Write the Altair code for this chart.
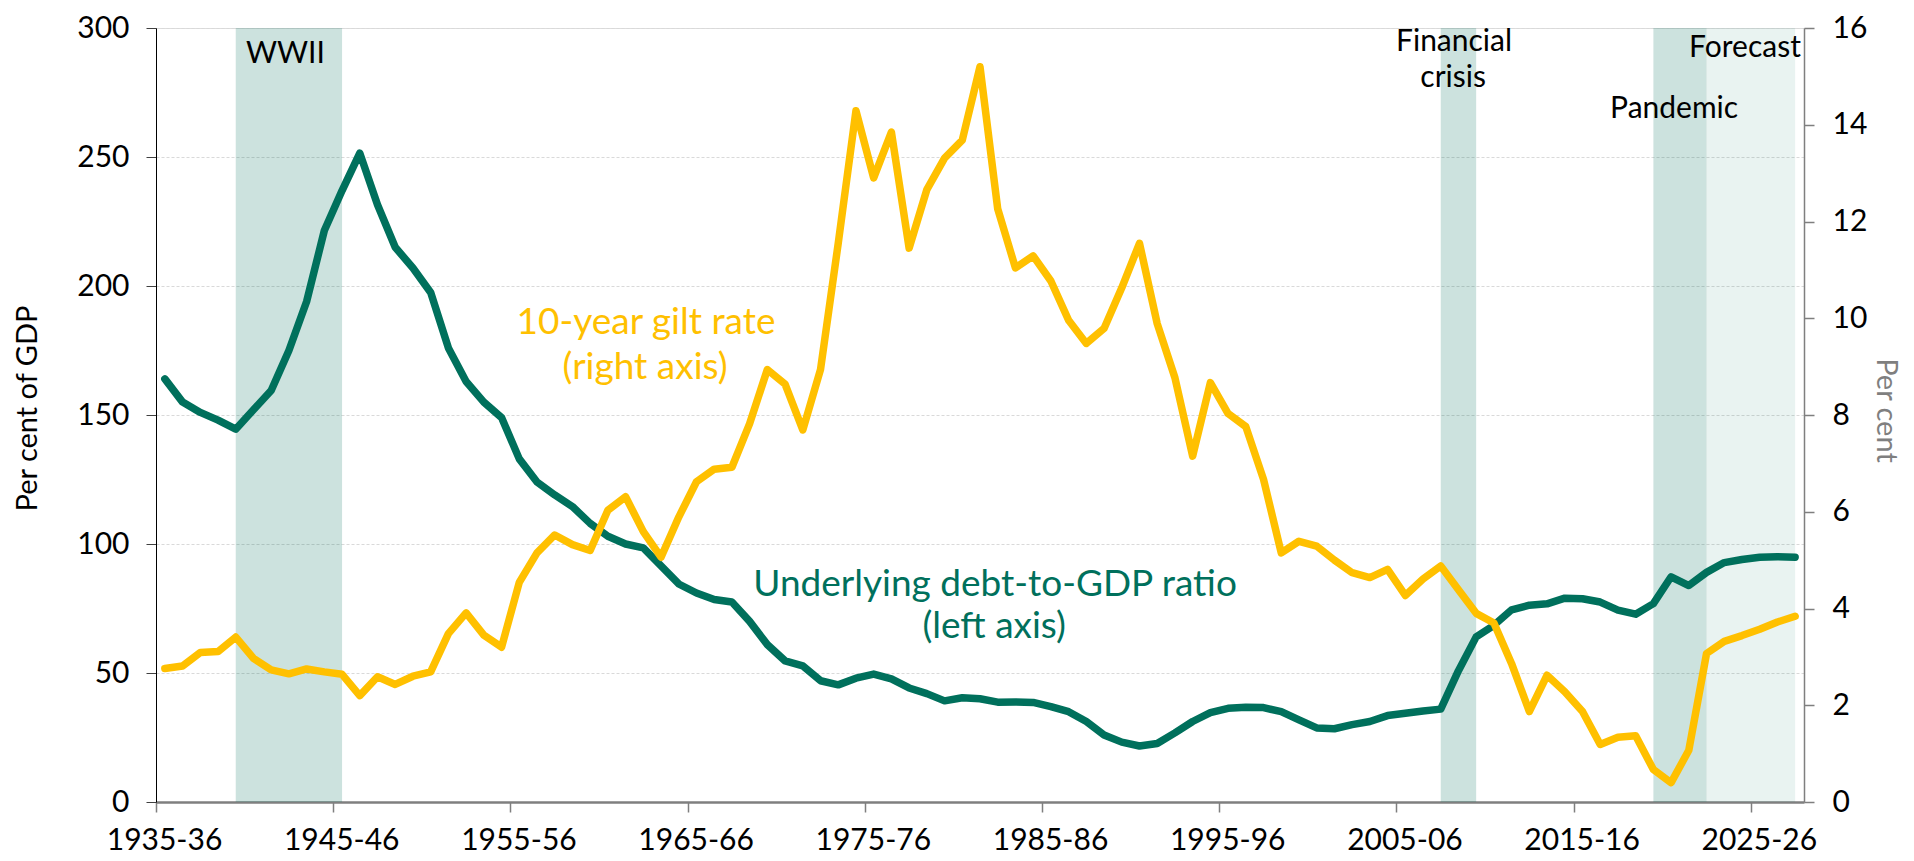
import altair as alt
import pandas as pd

# ---------------- data ----------------
start_years = list(range(1935, 2028))  # 1935-36 ... 2027-28

debt = [164, 155, 151, 148, 144.5, 152, 159.5, 175, 194, 221.5,
        237, 251.5, 231.5, 215, 207, 197.5, 176, 163, 155, 149,
        133, 124, 119, 114.5, 108, 103, 100, 98.5, 91.5, 84.5,
        81, 78.5, 77.5, 70, 61, 54.7, 52.8, 47, 45.4, 48,
        49.6, 47.7, 44.2, 42, 39.2, 40.4, 40, 38.7, 38.8, 38.6,
        37, 35, 31.2, 26, 23.2, 21.7, 22.7, 26.8, 31.2, 34.6,
        36.3, 36.7, 36.6, 35, 31.8, 28.7, 28.4, 30, 31.2, 33.5,
        34.4, 35.3, 36, 50.9, 64, 68.5, 74.5, 76.3, 76.8, 79,
        78.8, 77.5, 74.4, 72.8, 76.9, 87.3, 83.9, 89, 92.8, 94,
        94.9, 95.1, 94.9]

gilt = [2.76, 2.81, 3.09, 3.11, 3.41, 2.97, 2.73, 2.65, 2.75, 2.69,
        2.64, 2.2, 2.59, 2.43, 2.6, 2.69, 3.48, 3.91, 3.45, 3.2,
        4.54, 5.15, 5.52, 5.32, 5.2, 6.03, 6.31, 5.59, 5.06, 5.89,
        6.62, 6.88, 6.92, 7.82, 8.94, 8.64, 7.69, 8.94, 11.55, 14.29,
        12.9, 13.85, 11.45, 12.66, 13.31, 13.68, 15.2, 12.26, 11.04, 11.29,
        10.77, 9.96, 9.48, 9.79, 10.63, 11.55, 9.89, 8.77, 7.15, 8.67,
        8.03, 7.76, 6.67, 5.15, 5.39, 5.29, 5.0, 4.74, 4.64, 4.81,
        4.27, 4.61, 4.88, 4.39, 3.9, 3.7, 2.86, 1.87, 2.62, 2.28,
        1.87, 1.19, 1.34, 1.37, 0.67, 0.4, 1.07, 3.07, 3.32, 3.44,
        3.57, 3.72, 3.84]

period_names = ["WWII", "Financial crisis", "Pandemic", "Forecast"]
period_first = [1939, 2007, 2019, 2022]
period_last = [1945, 2009, 2022, 2027]
period_opacity = [0.2, 0.2, 0.2, 0.085]

note_text = ["WWII", "Financial", "crisis", "Pandemic", "Forecast"]
note_x = [1942.3, 2008.25, 2008.2, 2020.67, 2024.67]
note_y = [286.4, 291.2, 277.0, 265.0, 288.9]

gilt_label = ["10-year gilt rate", "(right axis)"]
gilt_label_x = [1962.65, 1962.6]
gilt_label_y = [181.3, 164.0]

debt_label = ["Underlying debt-to-GDP ratio", "(left axis)"]
debt_label_x = [1982.35, 1982.3]
debt_label_y = [80.0, 63.4]

tick_years = [1935, 1945, 1955, 1965, 1975, 1985, 1995, 2005, 2015, 2025]

GREEN = "#00705C"
YELLOW = "#FFC000"
FONT = "Lato"
PAD_L, PAD_T, PAD_R, PAD_B = 148, 20, 102, 54
W, H = 1648, 774

# ---------------- frames ----------------
df = pd.DataFrame({
    "x": [y + 0.5 for y in start_years],
    "debt": debt,
    "gilt": gilt,
})
periods = pd.DataFrame({
    "name": period_names,
    "x": [y + 0.5 for y in period_first],
    "x2": [y + 0.5 for y in period_last],
    "op": period_opacity,
})
notes = pd.DataFrame({"t": note_text, "x": note_x, "y": note_y})
gl = pd.DataFrame({"t": gilt_label, "x": gilt_label_x, "y": gilt_label_y})
dl = pd.DataFrame({"t": debt_label, "x": debt_label_x, "y": debt_label_y})

xscale = alt.Scale(domain=[1935, 2028], nice=False, zero=False)
xaxis = alt.Axis(
    values=tick_years,
    labelExpr="datum.value + '-' + substring(toString(datum.value + 1), 2, 4)",
    title=None, grid=False,
    domainColor="#7f7f7f", domainWidth=2.5,
    tickColor="#7f7f7f", tickSize=10, tickWidth=1.5,
    labelFontSize=30, labelColor="black", labelPadding=13, labelOffset=8,
    labelFont=FONT, labelFlush=False, labelOverlap=False,
)

def X(field):
    return alt.X(f"{field}:Q", scale=xscale, axis=xaxis, title=None)

left_scale = alt.Scale(domain=[0, 300], nice=False, zero=True)

shade = alt.Chart(periods).mark_rect(color=GREEN).encode(
    x=X("x"), x2="x2:Q",
    y=alt.value(0), y2=alt.value(H),
    opacity=alt.Opacity("op:Q", scale=None, legend=None),
)

debt_line = alt.Chart(df).mark_line(
    color=GREEN, strokeWidth=7.5, strokeJoin="round", strokeCap="round"
).encode(
    x=X("x"),
    y=alt.Y("debt:Q", scale=left_scale, axis=alt.Axis(
        orient="left", values=[0, 50, 100, 150, 200, 250, 300],
        title="Per cent of GDP", titleFontSize=29, titleFontWeight="normal",
        titleColor="black", titleFont=FONT, titleAngle=-90,
        titleX=36 - (PAD_L + 8), titleY=408 - (PAD_T + 8),
        titleAlign="center", titleBaseline="alphabetic",
        domainColor="black", domainWidth=1,
        tickColor="#404040", tickSize=10, tickWidth=1,
        labelFontSize=30, labelColor="black", labelFont=FONT, labelPadding=17,
        grid=True, gridColor="#D9D9D9", gridDash=[3, 2], gridWidth=1,
    )),
)

gilt_line = alt.Chart(df).mark_line(
    color=YELLOW, strokeWidth=7.5, strokeJoin="round", strokeCap="round"
).encode(
    x=X("x"),
    y=alt.Y("gilt:Q", scale=alt.Scale(domain=[0, 16], nice=False), axis=alt.Axis(
        orient="right", values=[0, 2, 4, 6, 8, 10, 12, 14, 16],
        title="Per cent", titleFontSize=29, titleFontWeight="normal",
        titleColor="#7f7f7f", titleFont=FONT, titleAngle=90,
        titleX=72, titleY=410 - (PAD_T + 8),
        titleAlign="center", titleBaseline="alphabetic",
        domainColor="#7f7f7f", domainWidth=1.5,
        tickColor="#7f7f7f", tickSize=10, tickWidth=1.5,
        labelFontSize=30, labelColor="black", labelFont=FONT, labelPadding=18,
        grid=False,
    )),
)

def text_layer(frame, color, size):
    return alt.Chart(frame).mark_text(
        color=color, fontSize=size, font=FONT, align="center", baseline="alphabetic"
    ).encode(
        x=X("x"),
        y=alt.Y("y:Q", scale=left_scale, axis=None),
        text="t:N",
    )

chart = alt.layer(
    shade, debt_line, gilt_line,
    text_layer(notes, "black", 30),
    text_layer(gl, YELLOW, 37),
    text_layer(dl, GREEN, 37),
).resolve_scale(y="independent").properties(
    width=W, height=H,
    autosize=alt.AutoSizeParams(type="none"),
    padding={"left": PAD_L, "top": PAD_T, "right": PAD_R, "bottom": PAD_B},
).configure_view(stroke=None).configure(font=FONT)

chart.save("out.html", embed_options={"renderer": "svg", "actions": False})
